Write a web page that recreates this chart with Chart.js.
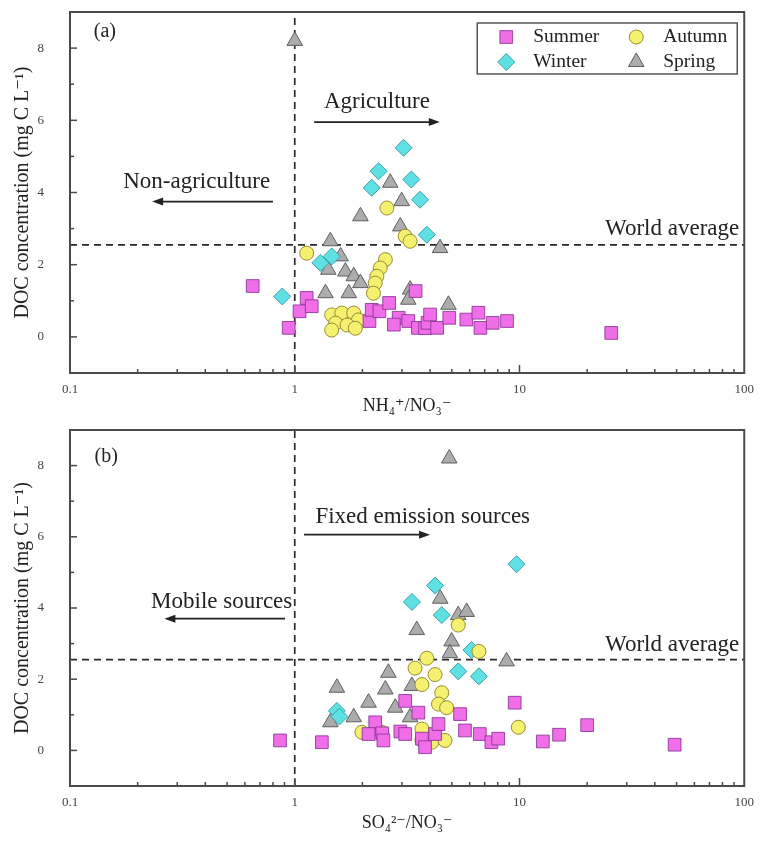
<!DOCTYPE html>
<html>
<head>
<meta charset="utf-8">
<script src="https://cdn.jsdelivr.net/npm/chart.js@4.4.1/dist/chart.umd.min.js"></script>
<style>
  html, body { margin: 0; padding: 0; background: #fff; }
  #wrap { position: relative; width: 763px; height: 841px; }
  canvas { position: absolute; left: 0; }
</style>
</head>
<body>
<div id="wrap">
  <canvas id="chartA" width="763" height="420" style="top:0"></canvas>
  <canvas id="chartB" width="763" height="421" style="top:420px"></canvas>
</div>
<script>
// tick labels
const xTicks = [0.1, 1, 10, 100];
const yTicks = [0, 2, 4, 6, 8];
const yMinorTicks = [1, 3, 5, 7];
const seasons = ['Summer', 'Autumn', 'Winter', 'Spring'];

// reference lines
const worldAverage = 2.55;
const ratioLimit = 1;

// (a) NH4+/NO3- vs DOC, pairs of [ratio, DOC]
const summerA = [[0.65,1.41],[0.94,0.25],[1.05,0.71],[1.13,1.08],[1.19,0.85],[2.15,0.44],[2.2,0.75],[2.38,0.71],
  [2.63,0.94],[2.9,0.53],[3.45,1.27],[3.2,0.44],[3.53,0.25],[3.8,0.24],[3.9,0.39],[4.3,0.25],[4.0,0.62],
  [4.87,0.53],[5.8,0.48],[6.56,0.67],[6.7,0.25],[7.6,0.39],[8.8,0.44],[25.6,0.11],[2.76,0.34]];
const autumnA = [[2.57,3.57],[3.1,2.79],[3.26,2.65],[1.13,2.32],[2.53,2.14],[2.4,1.91],[2.32,1.68],[2.28,1.49],
  [2.24,1.21],[1.46,0.61],[1.62,0.66],[1.83,0.66],[1.92,0.47],[1.52,0.38],[1.71,0.33],[1.46,0.19],[1.86,0.24]];
const winterA = [[3.05,5.24],[2.36,4.59],[2.2,4.13],[3.3,4.36],[3.61,3.8],[3.87,2.83],[1.3,2.05],[1.46,2.23],[0.88,1.12]];
const springA = [[1.0,8.2],[2.66,4.27],[2.99,3.76],[1.96,3.34],[2.95,3.06],[4.43,2.46],[1.44,2.65],[1.6,2.23],
  [1.41,1.86],[1.68,1.81],[1.83,1.68],[1.96,1.49],[1.37,1.21],[1.74,1.21],[3.26,1.31],[3.2,1.03],[4.83,0.89],[1.15,0.98]];

// (b) SO4 2-/NO3- vs DOC
const summerB = [[0.86,0.28],[1.32,0.23],[2.28,0.79],[2.45,0.48],[2.48,0.28],[2.13,0.46],[2.95,0.53],[3.1,1.39],
  [3.55,1.06],[3.1,0.46],[3.68,0.33],[3.8,0.09],[4.21,0.46],[4.36,0.74],[5.44,1.02],[5.72,0.56],[6.66,0.46],
  [7.5,0.23],[8.04,0.33],[9.52,1.34],[12.7,0.25],[15,0.44],[20,0.71],[49,0.16]];
const autumnB = [[5.34,3.52],[6.6,2.78],[3.87,2.59],[3.43,2.31],[4.21,2.13],[3.68,1.85],[4.51,1.62],[4.36,1.3],
  [4.74,1.2],[9.88,0.65],[1.99,0.51],[2.44,0.51],[3.68,0.6],[4.07,0.23],[4.66,0.28],[3.68,0.29]];
const winterB = [[9.7,5.23],[4.21,4.63],[3.32,4.17],[4.51,3.8],[6.12,2.82],[5.34,2.22],[6.6,2.08],[1.54,1.11],[1.58,0.95]];
const springB = [[4.87,8.2],[4.44,4.26],[5.34,3.8],[5.82,3.89],[3.49,3.38],[4.99,3.06],[4.9,2.73],[8.76,2.5],
  [2.61,2.18],[2.53,1.71],[3.32,1.81],[1.54,1.76],[2.13,1.34],[2.8,1.2],[1.83,0.93],[1.44,0.79],[3.26,0.93]];

const serif = "'Liberation Serif', 'DejaVu Serif', serif";

// marker styles for each season
const markerStyles = {
  Summer: { pointStyle: 'rect', pointRadius: 9, backgroundColor: 'rgb(240,110,232)', borderColor: 'rgba(130,45,145,0.8)' },
  Autumn: { pointStyle: 'circle', pointRadius: 7, backgroundColor: 'rgb(246,240,112)', borderColor: 'rgb(150,140,50)' },
  Winter: { pointStyle: 'rectRot', pointRadius: 8.5, backgroundColor: 'rgb(95,225,228)', borderColor: 'rgb(60,160,170)' },
  Spring: { pointStyle: 'triangle', pointRadius: 9, backgroundColor: 'rgb(172,172,172)', borderColor: 'rgb(95,95,95)' }
};

const toXY = arr => arr.map(p => ({ x: p[0], y: p[1] }));

function buildDatasets(series) {
  const sets = seasons.map((name, i) => ({
    label: name,
    data: toXY(series[i]),
    ...markerStyles[name],
    borderWidth: 1,
    order: 0
  }));
  const dash = { type: 'line', borderColor: '#2a2a2a', borderWidth: 1.7, borderDash: [7, 5], pointRadius: 0, order: 1, fill: false };
  sets.push({ ...dash, label: 'world', data: [{ x: 0.1, y: worldAverage }, { x: 100, y: worldAverage }] });
  sets.push({ ...dash, label: 'limit', data: [{ x: ratioLimit, y: -1 }, { x: ratioLimit, y: 9 }] });
  return sets;
}

// frame, inward ticks, text notes, arrows and legend box
const decor = {
  id: 'decor',
  afterDatasetsDraw(chart, args, opts) {
    const { ctx, chartArea: a, scales: { x, y } } = chart;
    ctx.save();
    ctx.strokeStyle = '#4a4a4a';
    ctx.lineWidth = 1.5;
    const seg = (x1, y1, x2, y2) => { ctx.beginPath(); ctx.moveTo(x1, y1); ctx.lineTo(x2, y2); ctx.stroke(); };
    yTicks.forEach(v => { const p = y.getPixelForValue(v); seg(a.left, p, a.left + 7, p); });
    yMinorTicks.forEach(v => { const p = y.getPixelForValue(v); seg(a.left, p, a.left + 4, p); });
    [0.1, 1, 10].forEach(d => {
      for (let k = 2; k <= 9; k++) { const p = x.getPixelForValue(d * k); seg(p, a.bottom, p, a.bottom - 4); }
    });
    [1, 10].forEach(v => { const p = x.getPixelForValue(v); seg(p, a.bottom, p, a.bottom - 8); });
    ctx.lineWidth = 2;
    ctx.strokeRect(a.left, a.top, a.right - a.left, a.bottom - a.top);

    // notes
    ctx.fillStyle = '#222';
    ctx.textBaseline = 'middle';
    (opts.texts || []).forEach(t => {
      ctx.font = (t.size || 23) + 'px ' + serif;
      ctx.textAlign = t.align || 'center';
      ctx.fillText(t.text, x.getPixelForValue(t.x), y.getPixelForValue(t.y));
    });
    // arrows
    ctx.strokeStyle = '#222';
    ctx.lineWidth = 1.8;
    (opts.arrows || []).forEach(ar => {
      const x1 = x.getPixelForValue(ar.from), x2 = x.getPixelForValue(ar.to), py = y.getPixelForValue(ar.y);
      const dir = Math.sign(x2 - x1);
      seg(x1, py, x2 - dir * 6, py);
      ctx.beginPath();
      ctx.moveTo(x2, py);
      ctx.lineTo(x2 - dir * 11, py - 4);
      ctx.lineTo(x2 - dir * 11, py + 4);
      ctx.closePath();
      ctx.fill();
    });

    // legend box
    if (opts.legend) {
      const L = a.right - 7 - 260, T = a.top + 11;
      ctx.strokeStyle = '#555';
      ctx.lineWidth = 1.5;
      ctx.strokeRect(L, T, 260, 51);
      ctx.font = '19.5px ' + serif;
      ctx.textAlign = 'left';
      const cells = [['Summer', 0, 0], ['Autumn', 1, 0], ['Winter', 0, 1], ['Spring', 1, 1]];
      cells.forEach(([name, col, row]) => {
        const cx = L + 29 + col * 130, cy = T + 14 + row * 25;
        const st = markerStyles[name];
        ctx.fillStyle = st.backgroundColor;
        ctx.strokeStyle = st.borderColor;
        ctx.lineWidth = 1;
        Chart.helpers.drawPoint(ctx, { pointStyle: st.pointStyle, radius: st.pointRadius, rotation: 0, borderWidth: 1 }, cx, cy);
        ctx.fillStyle = '#222';
        ctx.fillText(name, cx + 27, cy);
      });
    }
    ctx.restore();
  }
};

function buildOptions(xTitle, topPad, xHeight, titlePad, notes) {
  return {
    responsive: false,
    animation: false,
    layout: { padding: { top: topPad, right: 18, left: 0, bottom: 0 } },
    scales: {
      x: {
        type: 'logarithmic', min: 0.1, max: 100,
        afterBuildTicks: s => { s.ticks = xTicks.map(v => ({ value: v })); },
        afterFit: s => { s.height = xHeight; },
        grid: { display: false, drawTicks: false },
        border: { display: false },
        ticks: { callback: v => String(v), padding: 9, autoSkip: false, maxRotation: 0, color: '#444', font: { family: serif, size: 13 } },
        title: { display: true, text: xTitle, color: '#222', font: { family: serif, size: 18 }, padding: { top: 0, bottom: titlePad } }
      },
      y: {
        min: -1, max: 9,
        afterBuildTicks: s => { s.ticks = yTicks.map(v => ({ value: v })); },
        afterFit: s => { s.width = 70; s.paddingTop = 0; s.paddingBottom = 0; },
        grid: { display: false, drawTicks: false },
        border: { display: false },
        ticks: { padding: 26, color: '#444', font: { family: serif, size: 13 } },
        title: { display: true, text: 'DOC concentration (mg C L⁻¹)', color: '#222', font: { family: serif, size: 20 }, padding: { top: 11, bottom: 0 } }
      }
    },
    plugins: { legend: { display: false }, tooltip: { enabled: false }, decor: notes }
  };
}

new Chart(document.getElementById('chartA'), {
  type: 'scatter',
  data: { datasets: buildDatasets([summerA, autumnA, winterA, springA]) },
  options: buildOptions('NH₄⁺/NO₃⁻', 12, 47, 3, {
    legend: true,
    texts: [
      { text: '(a)', x: 0.143, y: 8.45, size: 20 },
      { text: 'Agriculture', x: 2.32, y: 6.5 },
      { text: 'Non-agriculture', x: 0.366, y: 4.3 },
      { text: 'World average', x: 95, y: 3.0, align: 'right' }
    ],
    arrows: [
      { from: 1.22, to: 4.42, y: 5.95 },
      { from: 0.8, to: 0.232, y: 3.75 }
    ]
  }),
  plugins: [decor]
});

new Chart(document.getElementById('chartB'), {
  type: 'scatter',
  data: { datasets: buildDatasets([summerB, autumnB, winterB, springB]) },
  options: buildOptions('SO₄²⁻/NO₃⁻', 5, 55, 7, {
    legend: false,
    texts: [
      { text: '(b)', x: 0.145, y: 8.25, size: 20 },
      { text: 'Fixed emission sources', x: 3.71, y: 6.57 },
      { text: 'Mobile sources', x: 0.975, y: 4.17, align: 'right' },
      { text: 'World average', x: 95, y: 2.96, align: 'right' }
    ],
    arrows: [
      { from: 1.1, to: 4.0, y: 6.06 },
      { from: 0.905, to: 0.263, y: 3.7 }
    ]
  }),
  plugins: [decor]
});
</script>
</body>
</html>
